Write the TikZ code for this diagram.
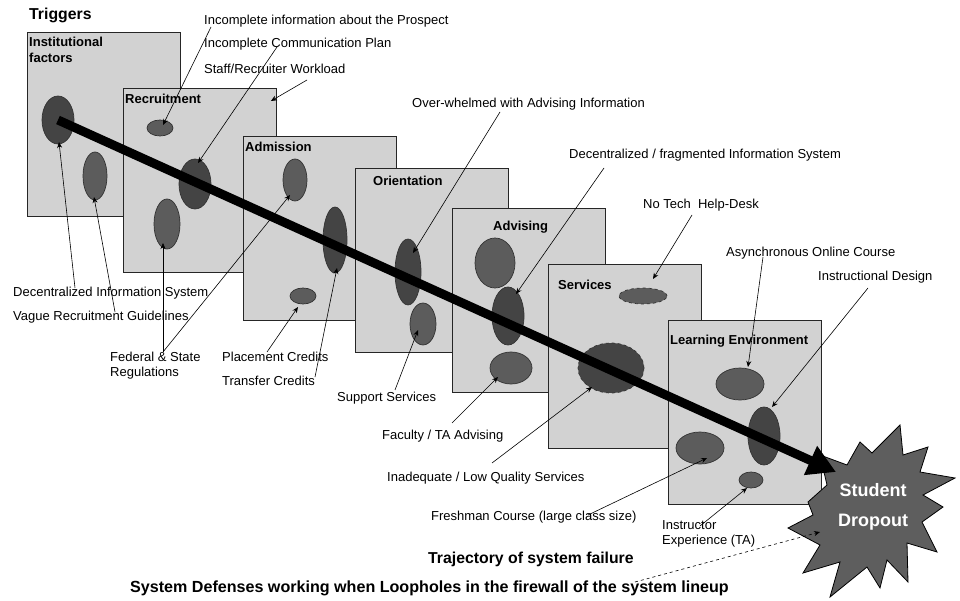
\documentclass[tikz,border=0pt]{standalone}
\usepackage{fontspec}
\setmainfont{Liberation Sans}
\usetikzlibrary{shapes.geometric,arrows.meta,calc}
\definecolor{panelfill}{HTML}{D2D2D2}
\definecolor{ellA}{HTML}{5C5C5C}
\definecolor{ellB}{HTML}{444444}
\definecolor{starfill}{HTML}{5E5E5E}
\begin{document}
\begin{tikzpicture}[x=1pt,y=-1pt,
 panel/.style={draw=black!85, line width=0.9pt, fill=panelfill, minimum width=153pt, minimum height=184pt, anchor=north west, inner sep=0pt},
 ptitle/.style={font=\fontsize{13}{16}\selectfont\bfseries, anchor=west, inner sep=0pt, align=left},
 ell/.style={ellipse, draw=black!80, line width=0.7pt, fill=ellA, inner sep=0pt},
 ellD/.style={ell, fill=ellB},
 lab/.style={font=\fontsize{13}{15.5}\selectfont, anchor=west, inner sep=0pt, align=left},
 big/.style={font=\fontsize{15.8}{18}\selectfont\bfseries, anchor=west, inner sep=0pt},
 bigger/.style={font=\fontsize{16.1}{18}\selectfont\bfseries, anchor=west, inner sep=0pt},
 startext/.style={font=\fontsize{18}{20}\selectfont\bfseries, text=white, inner sep=0pt},
 starshape/.style={draw=black, line width=0.8pt, fill=starfill, line join=miter},
 conn/.style={draw=black, line width=0.6pt, -{Stealth[length=6pt,width=5pt]}},
]
\fill[white] (0,0) rectangle (960,601);
\useasboundingbox (0,0) rectangle (960,601);

% panels and holes
\node[panel] (p1) at (27,32) {};
\node[ptitle, anchor=north west] (t1) at (29,37) {Institutional\\factors};
\node[ellD, minimum width=32pt, minimum height=48pt] (e1a) at (58,120) {};
\node[ell, minimum width=24pt, minimum height=48pt] (e1b) at (95,176) {};

\node[panel] (p2) at (123,88) {};
\node[ptitle] (t2) at (125,99) {Recruitment};
\node[ell, minimum width=26pt, minimum height=16pt] (e2a) at (160,128) {};
\node[ellD, minimum width=32pt, minimum height=50pt] (e2b) at (195,184) {};
\node[ell, minimum width=26pt, minimum height=50pt] (e2c) at (167,224) {};

\node[panel] (p3) at (243,136) {};
\node[ptitle] (t3) at (245,147) {Admission};
\node[ell, minimum width=24pt, minimum height=42pt] (e3a) at (295,180) {};
\node[ellD, minimum width=24pt, minimum height=66pt] (e3b) at (335,240) {};
\node[ell, minimum width=26pt, minimum height=16pt] (e3c) at (303,296) {};

\node[panel] (p4) at (355,168) {};
\node[ptitle] (t4) at (373,181) {Orientation};
\node[ellD, minimum width=26pt, minimum height=66pt] (e4a) at (408,272) {};
\node[ell, minimum width=26pt, minimum height=42pt] (e4b) at (423,324) {};

\node[panel] (p5) at (452,208) {};
\node[ptitle] (t5) at (493,227) {Advising};
\node[ell, minimum width=40pt, minimum height=50pt] (e5a) at (495,263) {};
\node[ellD, minimum width=32pt, minimum height=58pt] (e5b) at (508,316) {};
\node[ell, minimum width=42pt, minimum height=32pt] (e5c) at (511,368) {};

\node[panel] (p6) at (548,264) {};
\node[ptitle] (t6) at (558,285) {Services};
\node[ell, dashed, minimum width=48pt, minimum height=16pt] (e6a) at (643,296) {};
\node[ellD, dashed, minimum width=66pt, minimum height=50pt] (e6b) at (611,368) {};

\node[panel] (p7) at (668,320) {};
\node[ptitle] (t7) at (670,341) {Learning Environment};
\node[ell, minimum width=48pt, minimum height=32pt] (e7a) at (740,384) {};
\node[ellD, minimum width=32pt, minimum height=58pt] (e7b) at (764,436) {};
\node[ell, minimum width=48pt, minimum height=32pt] (e7c) at (700,448) {};
\node[ell, minimum width=24pt, minimum height=16pt] (e7d) at (751,480) {};

% starburst
\draw[starshape] (860,442) -- (872,453) -- (900,425) -- (903,455) -- (928,447) -- (920,472)
  -- (955,478) -- (923,495) -- (943,507) -- (922,522) -- (937,552) -- (907,543)
  -- (908,582) -- (887,560) -- (880,588) -- (867,567) -- (830,597) -- (840,562)
  -- (803,573) -- (820,545) -- (788,528) -- (813,515) -- (808,502) -- (827,485)
  -- (820,455) -- (847,465) -- cycle;
\coordinate (star) at (872,512);
\node[startext] (st1) at (873,490) {Student};
\node[startext] (st2) at (873,522) {Dropout};

% trajectory
\coordinate (tip) at (836,472);
\draw[line width=9pt, -{Triangle[length=28pt,width=30pt]}] (e1a.center) -- (tip);

% labels
\node[big] (trig) at (29,15) {Triggers};
\node[lab] (l1) at (204,21) {Incomplete information about the Prospect};
\node[lab] (l2) at (204,44) {Incomplete Communication Plan};
\node[lab] (l3) at (204,69) {Staff/Recruiter Workload};
\node[lab] (l4) at (412,104) {Over-whelmed with Advising Information};
\node[lab] (l5) at (569,155) {Decentralized / fragmented Information System};
\node[lab] (l6) at (643,205) {No Tech\ \ Help-Desk};
\node[lab] (l7) at (726,253) {Asynchronous Online Course};
\node[lab] (l8) at (818,277) {Instructional Design};
\node[lab] (l9) at (13,293) {Decentralized Information System};
\node[lab] (l10) at (13,317) {Vague Recruitment Guidelines};
\node[lab] (l11) at (110,365.5) {Federal \& State\\Regulations};
\node[lab] (l12) at (222,357) {Placement Credits};
\node[lab] (l13) at (222,381) {Transfer Credits};
\node[lab] (l14) at (337,398) {Support Services};
\node[lab] (l15) at (382,436) {Faculty / TA Advising};
\node[lab] (l16) at (387,478) {Inadequate / Low Quality Services};
\node[lab] (l17) at (431,517) {Freshman Course (large class size)};
\node[lab] (l18) at (662,534) {Instructor\\Experience (TA)};
\node[big] (l19) at (428,559) {Trajectory of system failure};
\node[bigger] (l20) at (130,588) {System Defenses working when Loopholes in the firewall of the system lineup};

% connector start points
\coordinate (s1) at (211,27);
\coordinate (s2) at (277,47);
\coordinate (s3) at (307,80);
\coordinate (s4) at (500,112);
\coordinate (s5) at (604,168);
\coordinate (s6) at (692,215);
\coordinate (s7) at (763,257);
\coordinate (s8) at (868,288);
\coordinate (s9) at (75,288);
\coordinate (s10) at (115,312);
\coordinate (s11) at (163,352);
\coordinate (s12) at (267,352);
\coordinate (s13) at (315,377);
\coordinate (s14) at (395,390);
\coordinate (s15) at (452,423);
\coordinate (s16) at (492,463);
\coordinate (s17) at (588,515);
\coordinate (s18) at (700,526);
\coordinate (s19) at (635,582);

\draw[conn] (s1) -- ($(e2a)+(3,-3)$);
\draw[conn] (s2) -- ($(e2b)+(3,-21)$);
\draw[conn] (s3) -- ($(p2.north east)+(-6,13)$);
\draw[conn] (s4) -- ($(e4a)+(5,-19)$);
\draw[conn] (s5) -- ($(e5b)+(8,-22)$);
\draw[conn] (s6) -- ($(e6a)+(10,-17)$);
\draw[conn] (s7) -- ($(e7a)+(8,-17)$);
\draw[conn] (s8) -- ($(e7b)+(8,-29)$);
\draw[conn] (s9) -- ($(e1a)+(1,22)$);
\draw[conn] (s10) -- ($(e1b)+(-1,21)$);
\draw[conn] (s11) -- ($(e2c)+(-4,19)$);
\draw[conn] (s11) -- ($(e3a)+(-5,15)$);
\draw[conn] (s12) -- ($(e3c)+(-5,11)$);
\draw[conn] (s13) -- ($(e3b)+(2,28)$);
\draw[conn] (s14) -- ($(e4b)+(-5,6)$);
\draw[conn] (s15) -- ($(e5c)+(-13,9)$);
\draw[conn] (s16) -- ($(e6b)+(-19,19)$);
\draw[conn] (s17) -- ($(e7c)+(7,10)$);
\draw[conn] (s18) -- ($(e7d)+(-4,8)$);
\draw[conn, dashed] (s19) -- ($(star)+(-52,20)$);
\end{tikzpicture}
\end{document}
